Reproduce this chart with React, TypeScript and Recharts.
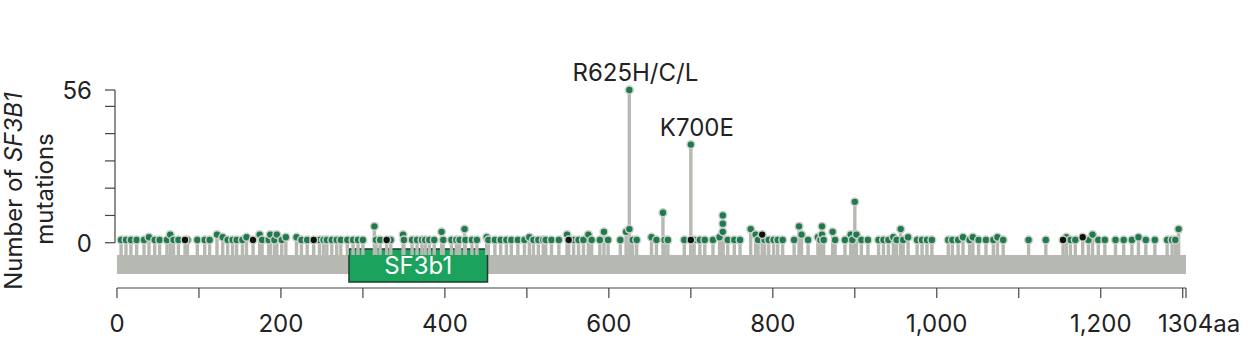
import { ComposedChart, Scatter, XAxis, YAxis, ReferenceArea, ReferenceLine } from "recharts"

// amino-acid position / number of mutations
const MISSENSE_POS = [
  5, 11, 17, 24, 33, 39, 46, 52, 61, 65, 69, 75, 86, 98, 107, 113, 122, 129, 135, 141,
  146, 153, 158, 174, 177, 185, 187, 192, 195, 201, 206, 219, 225, 232, 247, 252,
  256, 262, 268, 273, 281, 288, 294, 300, 314, 316, 321, 334, 349, 350, 360, 366, 372, 376,
  381, 387, 396, 398, 408, 414, 418, 424, 425, 433, 439, 451, 453, 461, 468, 475, 481, 489,
  497, 503, 508, 514, 520, 523, 530, 539, 549, 557, 563, 569, 575, 579, 589, 594, 599, 614,
  621, 625, 625, 629, 634, 652, 658, 666, 668, 672, 692, 700, 704, 711, 717, 727, 735, 739,
  739, 739, 745, 753, 760, 773, 779, 782, 790, 795, 801, 806, 812, 826, 832, 835, 843, 855,
  858, 860, 860, 862, 873, 876, 888, 895, 897, 900, 902, 908, 916, 929, 935, 941, 947, 951,
  956, 959, 965, 976, 982, 988, 994, 1014, 1019, 1026, 1032, 1040, 1044, 1051, 1060, 1069,
  1074, 1081, 1112, 1133, 1158, 1163, 1169, 1185, 1190, 1197, 1205, 1218, 1228, 1238, 1246,
  1255, 1266, 1281, 1287, 1291, 1295,
]
const MISSENSE_COUNT = [
  1, 1, 1, 1, 1, 2, 1, 1, 1, 3, 1, 1, 1, 1, 1, 1, 3, 2, 1, 1,
  1, 1, 2, 3, 1, 1, 3, 1, 3, 1, 2, 2, 1, 1, 1, 1,
  1, 1, 1, 1, 1, 1, 1, 1, 6, 1, 1, 1, 3, 1, 1, 1, 1, 1,
  1, 1, 4, 1, 1, 1, 1, 5, 1, 1, 1, 2, 1, 1, 1, 1, 1, 1,
  1, 2, 1, 1, 1, 1, 1, 1, 3, 1, 1, 1, 3, 1, 1, 4, 1, 1,
  4, 5, 56, 1, 1, 2, 1, 11, 1, 1, 1, 36, 1, 1, 1, 1, 2, 10,
  7, 4, 1, 1, 1, 5, 3, 1, 1, 1, 1, 1, 1, 1, 6, 3, 1, 2,
  1, 6, 3, 1, 4, 1, 1, 3, 1, 15, 3, 1, 1, 1, 1, 1, 2, 1,
  5, 1, 2, 1, 1, 1, 1, 1, 1, 1, 2, 1, 2, 1, 1, 1,
  2, 1, 1, 1, 2, 1, 1, 1, 3, 1, 1, 1, 1, 1, 2,
  1, 1, 1, 1, 1, 5,
]
const TRUNCATING_POS = [83, 166, 240, 329, 551, 700, 787, 1154, 1178]
const TRUNCATING_COUNT = [1, 1, 1, 1, 1, 1, 3, 1, 2]

const HOTSPOTS = [
  { pos: 625, text: "R625H/C/L" },
  { pos: 700, text: "K700E" },
]

const DOMAIN = { name: "SF3b1", start: 283, end: 452 }
const PROTEIN_LENGTH = 1304
const X_TICKS = [0, 100, 200, 300, 400, 500, 600, 700, 800, 900, 1000, 1100, 1200, 1300, 1304]
const Y_TICKS = [0, 10, 20, 30, 40, 50, 56]

const Y_MIN = -16.6
const Y_MAX = 56
const BAND_TOP = -4.5
const BAND_BOTTOM = -11.5
const PLOT_H = 198
const PX_PER_UNIT = PLOT_H / (Y_MAX - Y_MIN)

const FONT = "Inter, 'Noto Sans', sans-serif"
const TEXT = "#222"
const AXIS = "#444"
const GREY = "#b6b8b2"

type Pt = { pos: number; count: number; black: boolean; label?: string }

const points: Pt[] = [
  ...MISSENSE_POS.map((p, i) => ({ pos: p, count: MISSENSE_COUNT[i], black: false })),
  ...TRUNCATING_POS.map((p, i) => ({ pos: p, count: TRUNCATING_COUNT[i], black: true })),
].map((d) => {
  const h = HOTSPOTS.find((s) => s.pos === d.pos && d.count > 20)
  return h ? { ...d, label: h.text } : d
})

function Stem(props: any) {
  const { cx, cy, payload } = props
  if (cx == null || cy == null) return <g />
  const base = cy + (payload.count - BAND_TOP) * PX_PER_UNIT
  return <line x1={cx} x2={cx} y1={cy} y2={base} stroke={GREY} strokeWidth={3.4} />
}

function Dot(props: any) {
  const { cx, cy, payload } = props
  if (cx == null || cy == null) return <g />
  return (
    <g>
      <circle
        cx={cx}
        cy={cy}
        r={3.9}
        fill={payload.black ? "#111" : "#1f7b4e"}
        stroke="#cdd0ca"
        strokeWidth={1.5}
      />
      {payload.label && (
        <text x={cx + 6} y={cy - 9} textAnchor="middle" fontSize={24} fontFamily={FONT} fill={TEXT}>
          {payload.label}
        </text>
      )}
    </g>
  )
}

function XTick(props: any) {
  const { x, y, payload } = props
  const v = payload.value
  if (v === PROTEIN_LENGTH) {
    return (
      <text x={x - 28} y={y + 32} textAnchor="start" fontSize={24} fontFamily={FONT} fill={TEXT}>
        {v}aa
      </text>
    )
  }
  if (v % 200 !== 0) return <g />
  return (
    <text x={x} y={y + 32} textAnchor="middle" fontSize={24} fontFamily={FONT} fill={TEXT}>
      {v.toLocaleString("en-US")}
    </text>
  )
}

function YTick(props: any) {
  const { x, y, payload } = props
  const v = payload.value
  if (v !== 0 && v !== Y_MAX) return <g />
  return (
    <text x={x} y={y + 9} textAnchor="end" fontSize={24} fontFamily={FONT} fill={TEXT}>
      {v}
    </text>
  )
}

function YTitle() {
  return (
    <g fontSize={24} fontFamily={FONT} fill={TEXT}>
      <text transform="translate(22,191) rotate(-90)" textAnchor="middle">
        Number of <tspan fontStyle="italic">SF3B1</tspan>
      </text>
      <text transform="translate(53,189) rotate(-90)" textAnchor="middle">
        mutations
      </text>
    </g>
  )
}

export default function App() {
  return (
    <div style={{ position: "absolute", left: 0, top: 0 }}>
      <ComposedChart width={1248} height={364} data={points} margin={{ top: 90, right: 62, bottom: 0, left: 0 }}>
        <XAxis
          type="number"
          dataKey="pos"
          domain={[-2.4, PROTEIN_LENGTH]}
          ticks={X_TICKS}
          interval={0}
          axisLine={false}
          tickLine={{ stroke: AXIS, strokeWidth: 1.2 }}
          tickSize={10}
          tickMargin={2}
          height={76}
          tick={<XTick />}
        />
        <YAxis
          type="number"
          dataKey="count"
          domain={[Y_MIN, Y_MAX]}
          ticks={Y_TICKS}
          interval={0}
          axisLine={false}
          tickLine={{ stroke: AXIS, strokeWidth: 1.2 }}
          tickSize={10}
          tickMargin={13}
          width={115}
          tick={<YTick />}
          label={<YTitle />}
        />
        <ReferenceArea
          x1={0}
          x2={PROTEIN_LENGTH}
          y1={BAND_BOTTOM}
          y2={BAND_TOP}
          fill={GREY}
          fillOpacity={1}
          stroke="none"
          ifOverflow="visible"
        />
        <ReferenceLine
          segment={[
            { x: -2.4, y: 0 },
            { x: -2.4, y: Y_MAX },
          ]}
          stroke={AXIS}
          strokeWidth={1.2}
          ifOverflow="visible"
        />
        <ReferenceLine
          segment={[
            { x: 0, y: Y_MIN },
            { x: PROTEIN_LENGTH, y: Y_MIN },
          ]}
          stroke={AXIS}
          strokeWidth={1.2}
          ifOverflow="visible"
        />
        <Scatter data={points} dataKey="count" shape={<Stem />} isAnimationActive={false} />
        <Scatter data={points} dataKey="count" shape={<Dot />} isAnimationActive={false} />
        <ReferenceArea
          x1={DOMAIN.start}
          x2={DOMAIN.end}
          y1={-14.4}
          y2={-2.3}
          fill="#1ba35d"
          fillOpacity={1}
          stroke="#1d3b2b"
          strokeWidth={1.5}
          ifOverflow="visible"
          label={{ value: DOMAIN.name, fill: "#fff", fontSize: 24, fontFamily: FONT, position: "center" }}
        />
      </ComposedChart>
    </div>
  )
}
